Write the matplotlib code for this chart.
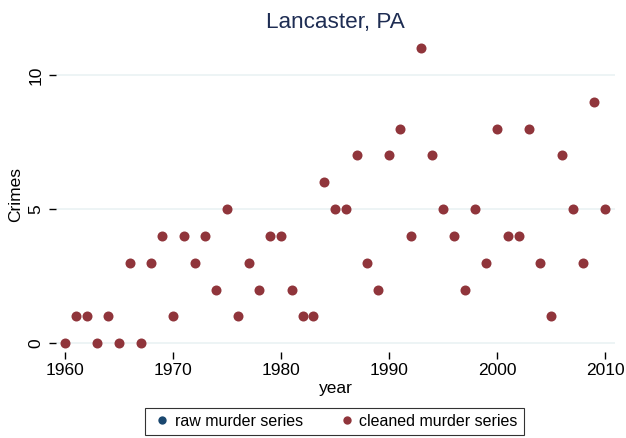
import matplotlib
matplotlib.use("Agg")
import matplotlib.pyplot as plt

years = list(range(1960, 2011))
raw_murders = [0, 1, 1, 0, 1, 0, 3, 0, 3, 4,
               1, 4, 3, 4, 2, 5, 1, 3, 2, 4,
               4, 2, 1, 1, 6, 5, 5, 7, 3, 2,
               7, 8, 4, 11, 7, 5, 4, 2, 5, 3,
               8, 4, 4, 8, 3, 1, 7, 5, 3, 9,
               5]
cleaned_murders = list(raw_murders)
x_ticks = [1960, 1970, 1980, 1990, 2000, 2010]
y_ticks = [0, 5, 10]

plt.rcParams['font.family'] = ['Liberation Sans', 'DejaVu Sans']

fig = plt.figure(figsize=(6.26, 4.38), dpi=100)
W, H = 626, 438
x0, x1 = 56, 615
ytop, ybot = 38, 352
ax = fig.add_axes([x0 / W, 1 - ybot / H, (x1 - x0) / W, (ybot - ytop) / H])

px_per_year = (605 - 65) / 50
px_per_unit = (343.3 - 75) / 10
ax.set_xlim(1960 + (x0 - 65) / px_per_year, 1960 + (x1 - 65) / px_per_year)
ax.set_ylim((343.3 - ybot) / px_per_unit, (343.3 - ytop) / px_per_unit)

navy = '#1a476f'
maroon = '#90353b'

for yv in y_ticks:
    ax.axhline(yv, color='#eaf2f3', lw=1.2, zorder=0)

ax.scatter(years, raw_murders, s=36, color=navy, zorder=2, label='raw murder series', linewidths=0)
ax.scatter(years, cleaned_murders, s=52, color=maroon, zorder=3, label='cleaned murder series', linewidths=0)

for sp in ax.spines.values():
    sp.set_visible(False)

ax.set_xticks(x_ticks)
ax.set_yticks(y_ticks)
ax.set_yticklabels([str(v) for v in y_ticks], rotation=90, va='center')
ax.tick_params(axis='both', labelsize=12.5, length=5, width=1, color='black', pad=3)
ax.tick_params(axis='y', pad=4)

ax.set_xlabel('year', fontsize=12.5, labelpad=2)
ax.set_ylabel('Crimes', fontsize=12.5, labelpad=4)
fig.text(335 / W, 1 - 28 / H, 'Lancaster, PA', fontsize=16.2, color='#1e2d53',
         ha='center', va='baseline')

handles = [
    plt.Line2D([], [], ls='none', marker='o', ms=6, mfc=navy, mec='none'),
    plt.Line2D([], [], ls='none', marker='o', ms=6, mfc=maroon, mec='none'),
]
leg = fig.legend(handles, ['raw murder series', 'cleaned murder series'],
                 loc='center', bbox_to_anchor=(334.5 / W, 1 - 421.5 / H), ncol=2,
                 fontsize=11.5, frameon=True, fancybox=False, edgecolor='black',
                 handletextpad=0.1, columnspacing=2.0, handlelength=1.4,
                 borderpad=0.4)
leg.get_frame().set_linewidth(0.8)

fig.savefig('out.png', dpi=100, facecolor='white')
